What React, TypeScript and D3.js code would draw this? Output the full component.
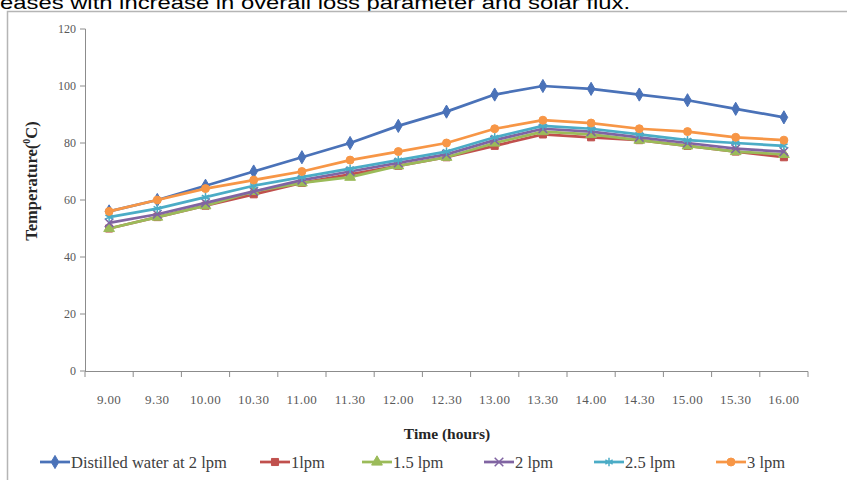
import React from 'react';
import * as d3 from 'd3';

// time of day (categories)
const times = ['9.00', '9.30', '10.00', '10.30', '11.00', '11.30', '12.00', '12.30', '13.00', '13.30', '14.00', '14.30', '15.00', '15.30', '16.00'];

// outlet temperature (°C)
const distilled2 = [56, 60, 65, 70, 75, 80, 86, 91, 97, 100, 99, 97, 95, 92, 89];
const lpm1 = [50, 54, 58, 62, 66, 69, 72, 75, 79, 83, 82, 81, 79, 77, 75];
const lpm15 = [50, 54, 58, 63, 66, 68, 72, 75, 80, 84, 83, 81, 79, 77, 76];
const lpm2 = [52, 55, 59, 63, 67, 70, 73, 76, 81, 85, 84, 82, 80, 78, 77];
const lpm25 = [54, 57, 61, 65, 68, 71, 74, 77, 82, 86, 85, 83, 81, 80, 79];
const lpm3 = [56, 60, 64, 67, 70, 74, 77, 80, 85, 88, 87, 85, 84, 82, 81];

const yTicks = [0, 20, 40, 60, 80, 100, 120];

const seriesNames = ['Distilled water at 2 lpm', '1lpm', '1.5 lpm', '2 lpm', '2.5 lpm', '3 lpm'];
const seriesValues = [distilled2, lpm1, lpm15, lpm2, lpm25, lpm3];
const seriesColors = ['#4a72b8', '#c0504d', '#9bbb59', '#8064a2', '#4bacc6', '#f79646'];
const seriesSymbols = [d3.symbolDiamond, d3.symbolSquare, d3.symbolTriangle, d3.symbolX, d3.symbolAsterisk, d3.symbolCircle];
const strokeOnly = [false, false, false, true, true, false];
const legendX = [40, 260, 362, 484, 594, 716];

const W = 847;
const H = 480;
const serif = '"Liberation Serif", "Times New Roman", serif';

export default function App() {
  const x = d3.scaleBand<string>().domain(times).range([85, 808]);
  const y = d3.scaleLinear().domain([0, 120]).range([371, 29]);
  const cx = (t: string) => (x(t) ?? 0) + x.bandwidth() / 2;

  const line = d3.line<number>()
    .x((_, i) => cx(times[i]))
    .y(v => y(v));

  const marker = (i: number, size: number) =>
    d3.symbol().type(seriesSymbols[i]).size(size)() ?? '';

  const boundaries = times.map(t => x(t) ?? 0).concat([808]);

  return (
    <svg width={W} height={H} style={{ position: 'absolute', left: 0, top: 0, background: '#fff' }}>
      <text x={0} y={9} fontFamily='"Liberation Sans", Arial, sans-serif' fontSize={19} fill="#000"
        textLength={630} lengthAdjust="spacingAndGlyphs">
        eases with increase in overall loss parameter and solar flux.
      </text>
      <rect x={7.5} y={11.5} width={845} height={480} fill="#fff" stroke="#b5b5b5" strokeWidth={1.5} />

      {/* y axis */}
      <line x1={85.5} x2={85.5} y1={y(120)} y2={y(0)} stroke="#8c8c8c" />
      {yTicks.map(t => (
        <g key={t}>
          <line x1={80} x2={85.5} y1={y(t)} y2={y(t)} stroke="#8c8c8c" />
          <text x={76} y={y(t)} dy="0.35em" textAnchor="end" fontFamily={serif} fontSize={12} fill="#595959">{t}</text>
        </g>
      ))}
      <text transform="translate(37,181) rotate(-90)" textAnchor="middle" fontFamily={serif} fontSize={16.5} fontWeight="bold" fill="#262626">
        Temperature(<tspan fontSize={10} dy={-7}>0</tspan><tspan dy={7}>C)</tspan>
      </text>

      {/* x axis */}
      <line x1={85} x2={808} y1={371.5} y2={371.5} stroke="#8c8c8c" />
      {boundaries.map((b, i) => (
        <line key={i} x1={b} x2={b} y1={371.5} y2={377} stroke="#8c8c8c" />
      ))}
      {times.map(t => (
        <text key={t} x={cx(t)} y={404} textAnchor="middle" fontFamily={serif} fontSize={13} letterSpacing={0.4} fill="#595959">{t}</text>
      ))}
      <text x={447} y={439} textAnchor="middle" fontFamily={serif} fontSize={15.5} fontWeight="bold" fill="#262626">Time (hours)</text>

      {/* series */}
      {seriesValues.map((vals, i) => (
        <g key={seriesNames[i]}>
          <path d={line(vals) ?? ''} fill="none" stroke={seriesColors[i]} strokeWidth={2.75} strokeLinejoin="round" />
          {vals.map((v, j) => (
            <path
              key={j}
              transform={`translate(${cx(times[j])},${y(v)})`}
              d={marker(i, 50)}
              fill={strokeOnly[i] ? 'none' : seriesColors[i]}
              stroke={seriesColors[i]}
              strokeWidth={strokeOnly[i] ? 1.5 : 1}
            />
          ))}
        </g>
      ))}

      {/* legend */}
      {seriesNames.map((name, i) => (
        <g key={name} transform={`translate(${legendX[i]},462)`}>
          <line x1={0} x2={30} y1={0} y2={0} stroke={seriesColors[i]} strokeWidth={2.75} />
          <path
            transform="translate(15,0)"
            d={marker(i, 50)}
            fill={strokeOnly[i] ? 'none' : seriesColors[i]}
            stroke={seriesColors[i]}
            strokeWidth={strokeOnly[i] ? 1.5 : 1}
          />
          <text x={31} y={0} dy="0.35em" fontFamily={serif} fontSize={16.5} fill="#404040">{name}</text>
        </g>
      ))}
    </svg>
  );
}
